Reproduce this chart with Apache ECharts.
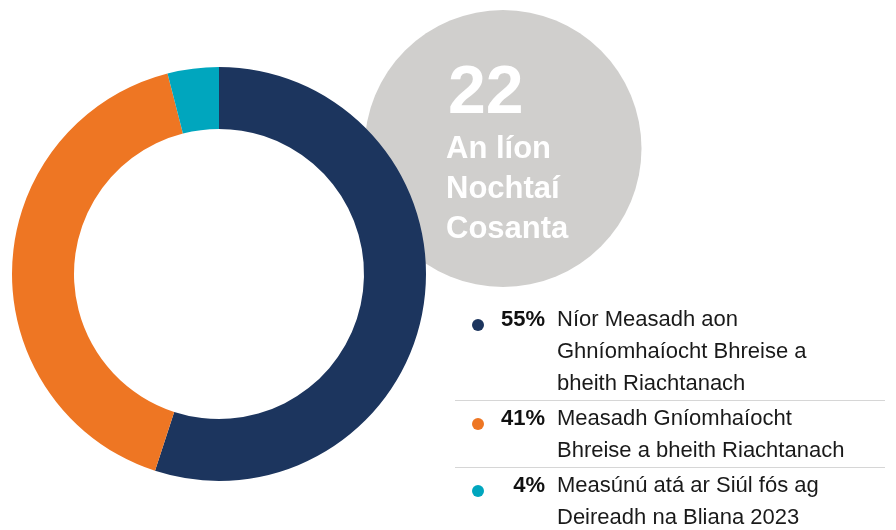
<!DOCTYPE html>
<html>
<head>
<meta charset="utf-8">
<script src="https://cdn.jsdelivr.net/npm/echarts@6/dist/echarts.min.js"></script>
<style>
  html, body { margin: 0; padding: 0; background: #ffffff; }
  #chart { width: 896px; height: 530px; }
</style>
</head>
<body>
<div id="chart"></div>
<script>
// data
var labels = ['Níor Measadh aon Ghníomhaíocht Bhreise a bheith Riachtanach',
  'Measadh Gníomhaíocht Bhreise a bheith Riachtanach',
  'Measúnú atá ar Siúl fós ag Deireadh na Bliana 2023'];
var values = [55, 41, 4];
var percents = ['55%', '41%', '4%'];
// how the legend text wraps
var legendLines = [
  ['Níor Measadh aon', 'Ghníomhaíocht Bhreise a', 'bheith Riachtanach'],
  ['Measadh Gníomhaíocht', 'Bhreise a bheith Riachtanach'],
  ['Measúnú atá ar Siúl fós ag', 'Deireadh na Bliana 2023']
];
var totalNumber = '22';
var totalLines = ['An líon', 'Nochtaí', 'Cosanta'];
var colors = ['#1c355e', '#ee7623', '#00a6be'];

var chart = echarts.init(document.getElementById('chart'));
var font = '"Liberation Sans", Arial, Helvetica, sans-serif';

var graphics = [];
// big gray bubble behind the donut
graphics.push({
  type: 'circle', z: 0,
  shape: { cx: 503, cy: 148.5, r: 138.5 },
  style: { fill: '#d0cfcd' }
});
graphics.push({
  type: 'text', z: 1, x: 448, y: 94,
  style: { text: totalNumber, fill: '#ffffff', font: 'bold 68px ' + font, verticalAlign: 'middle' }
});
for (let i = 0; i < totalLines.length; i++) {
  graphics.push({
    type: 'text', z: 1, x: 446, y: 149 + i * 40,
    style: { text: totalLines[i], fill: '#ffffff', font: 'bold 31px ' + font, verticalAlign: 'middle' }
  });
}

// legend rows
var base = 326;
for (let i = 0; i < legendLines.length; i++) {
  graphics.push({
    type: 'circle', z: 5,
    shape: { cx: 478, cy: base - 1, r: 6 },
    style: { fill: colors[i] }
  });
  graphics.push({
    type: 'text', z: 5, x: 545, y: base + 5,
    style: { text: percents[i], fill: '#111111', font: 'bold 22px ' + font, align: 'right', verticalAlign: 'bottom' }
  });
  for (let j = 0; j < legendLines[i].length; j++) {
    graphics.push({
      type: 'text', z: 5, x: 557, y: base + 5 + j * 32,
      style: { text: legendLines[i][j], fill: '#1a1a1a', font: '22px ' + font, verticalAlign: 'bottom' }
    });
  }
  var last = base + (legendLines[i].length - 1) * 32;
  if (i < legendLines.length - 1) {
    graphics.push({
      type: 'line', z: 5,
      shape: { x1: 455, y1: last + 10.5, x2: 885, y2: last + 10.5 },
      style: { stroke: '#d6d6d6', lineWidth: 1 }
    });
  }
  base = last + 35;
}

var option = {
  backgroundColor: '#ffffff',
  animation: false,
  graphic: { elements: graphics },
  series: [{
    type: 'pie',
    z: 10,
    center: [219, 274],
    radius: [145, 207],
    startAngle: 90,
    clockwise: true,
    silent: true,
    label: { show: false },
    labelLine: { show: false },
    itemStyle: { borderWidth: 0 },
    data: values.map(function (v, i) {
      return { name: labels[i], value: v, itemStyle: { color: colors[i] } };
    })
  }]
};
chart.setOption(option);
</script>
</body>
</html>
